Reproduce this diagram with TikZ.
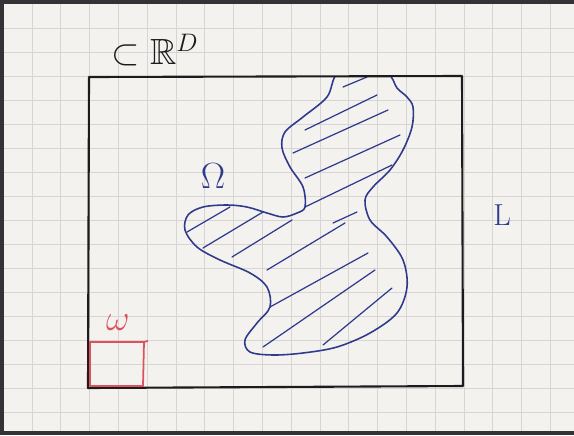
\documentclass[tikz,border=0pt]{standalone}
\usepackage{amsmath,amssymb}
\definecolor{paper}{RGB}{244,242,239}
\definecolor{gridgray}{RGB}{214,213,211}
\definecolor{penblack}{RGB}{28,28,30}
\definecolor{penblue}{RGB}{48,58,140}
\definecolor{penred}{RGB}{222,82,96}

\begin{document}
\begin{tikzpicture}[x=0.2mm, y=-0.2mm,
  gridline/.style={gridgray, line width=0.5pt},
  box/.style={penblack, line width=1.2pt, line join=round},
  blob/.style={penblue, line width=0.9pt},
  hatch/.style={penblue, line width=0.7pt, line cap=round},
  cell/.style={penred, line width=1pt}]
  \useasboundingbox (0,0) rectangle (574,435);
  % Papier
  \fill[paper] (0,0) rectangle (574,435);
  \foreach \x in {32,60.8,...,560} \draw[gridline] (\x,4) -- (\x,431);
  \foreach \y in {28,52,...,420} \draw[gridline] (4,\y) -- (574,\y);
  \fill[penblack!90] (0,0) rectangle (574,4);
  \fill[penblack!90] (0,0) rectangle (4,435);
  \fill[penblack!90] (0,431) rectangle (574,435);
  % Quader L
  \coordinate (NW) at (89,77);
  \coordinate (NE) at (462,76);
  \coordinate (SE) at (463,386);
  \coordinate (SW) at (88,388);
  % Gebiet Omega
  \begin{scope}
    \clip (NW) -- (NE) -- (SE) -- (SW) -- cycle;
    \draw[blob] plot[smooth cycle, tension=0.55] coordinates {
      (337,74) (327,97) (303,117) (285,132) (282,148) (290,167) (303,187)
      (305,207) (297,213) (283,217) (267,213) (247,207) (227,205) (203,207)
      (188,215) (185,230) (197,247) (220,260) (250,273) (267,287) (270,307)
      (257,323) (245,340) (250,352) (273,355) (303,353) (337,347) (370,333)
      (397,313) (407,287) (403,260) (387,237) (370,220) (365,200) (373,187)
      (390,170) (403,150) (412,127) (413,107) (407,97) (397,88) (388,74)
      (362,70)};
  \end{scope}
  \foreach \xa/\ya/\xb/\yb in {343/87/367/77, 305/130/377/95,
      293/153/388/110, 305/178/400/135, 305/207/392/165,
      187/232/230/207, 203/248/263/212, 232/257/292/220,
      333/223/357/212, 267/270/345/223, 270/307/368/253,
      263/347/375/270, 323/345/392/288}
    \draw[hatch] (\xa,\ya) -- (\xb,\yb);
  \draw[box] (NW) -- (NE) -- (SE) -- (SW) -- cycle;
  % Wuerfel omega
  \coordinate (w1) at (90,342);
  \coordinate (w2) at (144,342);
  \coordinate (w3) at (143,386);
  \coordinate (w4) at (90,386);
  \draw[cell] (w4) -- (w1) -- (w2) -- (w3) -- (w4);
  \draw[cell] (w2) -- (148,341);
  % Beschriftungen
  \node[penblack, font=\huge] (space) at (155,50) {$\subset\mathbb{R}^{D}$};
  \node[penblue, font=\huge] (Om) at (213,176) {$\Omega$};
  \node[penblue, font=\LARGE] (L) at (502,215) {$\mathrm{L}$};
  \node[penred, font=\huge] (om) at (118,323) {$\omega$};
\end{tikzpicture}
\end{document}
